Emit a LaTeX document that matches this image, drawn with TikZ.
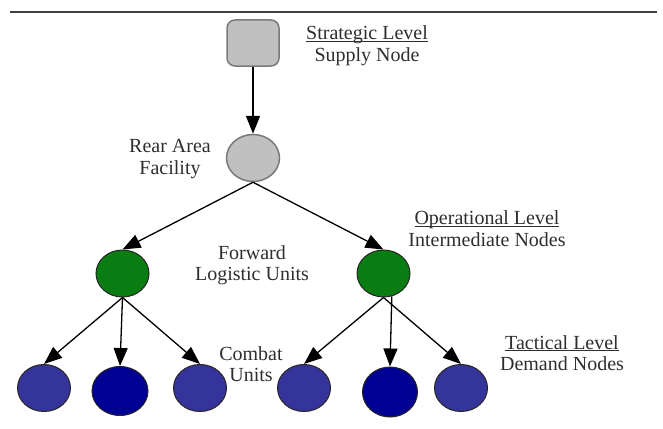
\documentclass[tikz,border=0pt]{standalone}
\usepackage{fontspec}
\setmainfont{Liberation Serif}
\usepackage{xcolor}
\usetikzlibrary{shapes.geometric,arrows.meta}

\definecolor{supplygray}{HTML}{C0C0C0}
\definecolor{edgegray}{HTML}{7A7A7A}
\definecolor{fwdgreen}{HTML}{0A7D12}
\definecolor{demblue}{HTML}{34349A}
\definecolor{deepblue}{HTML}{000092}
\definecolor{txtgray}{HTML}{2E2E2E}

% underlined level title, rule just below the baseline
\newsavebox\lvlbox
\newcommand{\lvltitle}[1]{\sbox\lvlbox{#1}\rlap{\rule[-2.2pt]{\wd\lvlbox}{0.9pt}}\usebox\lvlbox}

\begin{document}
\begin{tikzpicture}[x=1pt,y=-1pt,
    >={Triangle[length=18pt,width=14pt]},
    supply/.style={shape=rectangle,rounded corners=8pt,draw=edgegray,fill=supplygray,line width=1.5pt,minimum width=52pt,minimum height=46pt,inner sep=0pt},
    unit/.style={shape=ellipse,draw=black!85,line width=1pt,minimum width=53pt,minimum height=47pt,inner sep=0pt},
    label/.style={align=center,text=txtgray,font=\fontsize{20}{21.5}\selectfont,inner sep=0pt},
    flow/.style={->,line width=1.3pt,draw=black}]
        \useasboundingbox (0,0) rectangle (663,428);

        \coordinate (ruleL) at (10,12);
        \coordinate (ruleR) at (657,12);
        \draw[line width=2pt,draw=black!75] (ruleL) -- (ruleR);

        \node[supply] (S) at (253,43) {};
        \node[unit,fill=supplygray,draw=edgegray,line width=1.5pt] (R) at (253,158) {};
        \node[unit,fill=fwdgreen] (F1) at (122.5,273.5) {};
        \node[unit,fill=fwdgreen] (F2) at (383.5,273.5) {};

        \node[unit,fill=demblue] (D1) at (44,388) {};
        \node[unit,fill=deepblue,minimum width=56pt,minimum height=49pt] (D2) at (120,391) {};
        \node[unit,fill=demblue] (D3) at (200,388) {};
        \node[unit,fill=demblue] (D4) at (304,388) {};
        \node[unit,fill=deepblue,minimum width=55pt,minimum height=50pt] (D5) at (390,392) {};
        \node[unit,fill=demblue] (D6) at (461,388) {};

        % level labels
        \node[label] (Lstrat) at (367,45.5) {\lvltitle{Strategic Level}\\Supply Node};
        \node[label] (Lrear) at (170,159) {Rear Area\\Facility};
        \node[label] (Lfwd) at (252,265) {Forward\\Logistic Units};
        \node[label] (Loper) at (487,228.5) {\lvltitle{Operational Level}\\Intermediate Nodes};
        \node[label] (Lcombat) at (251,364) {Combat\\Units};
        \node[label] (Ltact) at (562,353) {\lvltitle{Tactical Level}\\Demand Nodes};

        % supply flow
        \path (S.south) edge [flow, line width=1.6pt] node {} (R.north);
        \path (R.south) edge [flow] node {} (F1.north);
        \path (R.south) edge [flow] node {} (F2.north);

        \path (F1.south) edge [flow] node {} (D1.north);
        \path (F1.south) edge [flow] node {} (D2.north);
        \path (F1.south) edge [flow] node {} (D3.north);

        \path (F2.south) edge [flow] node {} (D4.north);
        \path (F2.-70) edge [flow] node {} (D5.north);
        \path (F2.south) edge [flow] node {} (D6.north);
    \end{tikzpicture}
\end{document}
